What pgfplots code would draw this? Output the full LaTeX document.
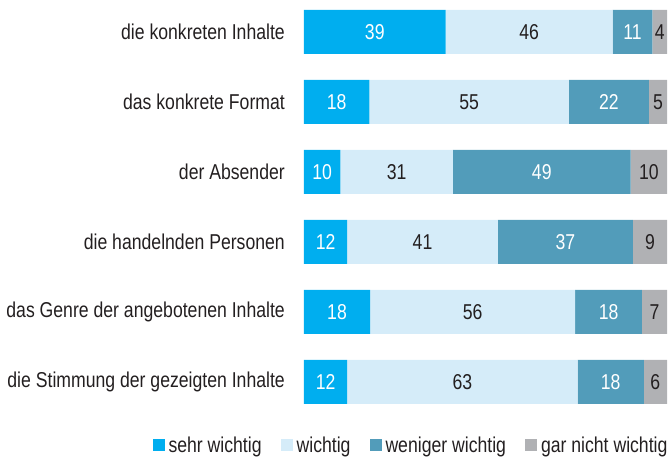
\documentclass[border=0pt]{standalone}
\usepackage{fontspec}
\setmainfont{Liberation Sans}[FakeStretch=0.82]
\usepackage{pgfplots}
\pgfplotsset{compat=1.18}
\definecolor{c1}{HTML}{00AEEF}
\definecolor{c2}{HTML}{D5ECF9}
\definecolor{c3}{HTML}{529CBA}
\definecolor{c4}{HTML}{B0B1B4}
\definecolor{txt}{HTML}{231F20}
\begin{document}
\begin{tikzpicture}
\path[use as bounding box] (0,0) rectangle (670pt,457pt);
\begin{axis}[
  at={(304pt,447pt)}, anchor=north west,
  scale only axis, width=363pt, height=394pt,
  xbar stacked, bar width=44pt,
  xmin=0, xmax=100, ymin=-0.3143, ymax=5.3143, y dir=reverse,
  axis x line=none,
  axis y line*=left, y axis line style={draw=none},
  major tick length=0pt,
  /pgf/number format/assume math mode=true,
  ytick={0,...,5},
  yticklabels={die konkreten Inhalte, das konkrete Format, der Absender, die handelnden Personen, das Genre der angebotenen Inhalte, die Stimmung der gezeigten Inhalte},
  yticklabel style={font=\fontsize{21.5}{26}\selectfont, text=txt, inner sep=0pt, xshift=-19pt, anchor=east},
  point meta=explicit,
  nodes near coords,
  nodes near coords style={font=\fontsize{21.5}{26}\selectfont},
  legend columns=4,
  legend style={at={(0.292,-0.104)}, anchor=center, draw=none, fill=none,
    font=\fontsize{21.5}{26}\selectfont, text=txt, inner sep=0pt,
    nodes={inner sep=0pt},
    /tikz/every odd column/.append style={column sep=4pt},
    /tikz/every even column/.append style={column sep=19pt}},
  legend image code/.code={\fill[#1] (0pt,-6pt) rectangle (12pt,6pt);},
]
\addplot[fill=c1, draw=none, nodes near coords style={text=white}] coordinates {(39,0) [39] (18,1) [18] (10,2) [10] (11.9,3) [12] (18.2,4) [18] (11.9,5) [12]};
\addplot[fill=c2, draw=none, nodes near coords style={text=txt}] coordinates {(46,0) [46] (55,1) [55] (31,2) [31] (41.5,3) [41] (56.5,4) [56] (63.5,5) [63]};
\addplot[fill=c3, draw=none, nodes near coords style={text=white}] coordinates {(11,0) [11] (22,1) [22] (49,2) [49] (37.2,3) [37] (18.4,4) [18] (18.2,5) [18]};
\addplot[fill=c4, draw=none, nodes near coords style={text=txt}] coordinates {(4,0) [4] (5,1) [5] (10,2) [10] (9.4,3) [9] (6.9,4) [7] (6.4,5) [6]};
\legend{sehr wichtig, wichtig, weniger wichtig, gar nicht wichtig}
\end{axis}
\end{tikzpicture}
\end{document}
